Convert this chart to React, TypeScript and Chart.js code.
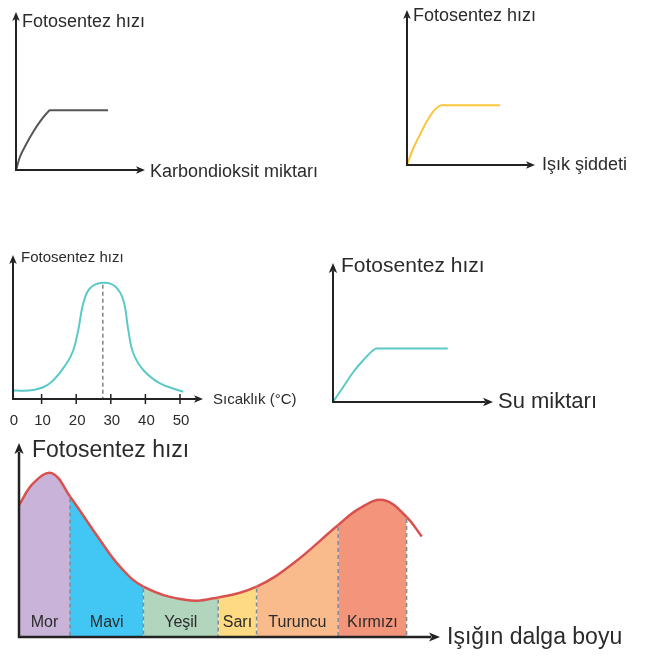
import React, { useEffect, useRef } from "react";
import { Chart, registerables } from "chart.js";
Chart.register(...registerables);

// ---------- DATA ----------
// 1) Karbondioksit miktarı
const co2X = [0, 0.31, 0.83, 1.34, 1.86, 2.38, 2.64, 7.13];
const co2Y = [0, 0.84, 1.69, 2.42, 3.06, 3.59, 3.78, 3.78];
// 2) Işık şiddeti
const lightX = [0, 0.49, 1.0, 1.53, 2.04, 2.43, 2.69, 7.26];
const lightY = [0, 1.08, 1.94, 2.79, 3.44, 3.76, 3.85, 3.85];
// 3) Sıcaklık (°C)
const tempX = [1.73, 7.6, 12.4, 17.25, 19.15, 20.6, 22.05, 24, 27.7, 31.2, 33.6, 35.05, 36.5, 39.4, 44.2, 50.95];
const tempY = [7.2, 7.8, 13.5, 30.8, 42, 59.5, 82.5, 95.4, 100, 97, 85.3, 59.5, 39.4, 25, 13.5, 6.3];
const tempTicks = [0, 10, 20, 30, 40, 50];
// 4) Su miktarı
const waterX = [0, 0.64, 1.27, 1.89, 2.51, 2.72, 7.17];
const waterY = [0, 1.08, 2.16, 3.0, 3.72, 3.84, 3.84];
// 5) Işığın dalga boyu
const waveX = [0, 3.6, 8.2, 12.75, 20.25, 25.25, 31.1, 41.9, 49.8, 59.4, 68.6, 79.8, 85.25, 91.1, 96.9, 100.7];
const waveY = [66, 76.9, 81.9, 70.2, 48.5, 35.2, 25.2, 18.5, 19.8, 25.2, 36.9, 56, 64.4, 68.5, 60, 50.2];
const bandNames = ["Mor", "Mavi", "Yeşil", "Sarı", "Turuncu", "Kırmızı"];
const bandBounds = [0, 12.75, 31.1, 49.8, 59.4, 79.8, 96.9];
const bandColors = ["#c9b3d9", "#42c7f4", "#b2d5bd", "#fedb82", "#f9bb8c", "#f3957b"];

const AXIS = "#222222";
const TEXT = "#2b2b2b";
const FONT = '"Liberation Sans", Arial, sans-serif';

type Label = { text: string; anchor: "top" | "right"; dx: number; dy: number; size: number };
type Spec = {
  box: { x: number; y: number; w: number; h: number };
  area: { left: number; top: number; right: number; bottom: number };
  xMin: number;
  xMax: number;
  yMax: number;
  xs: number[];
  ys: number[];
  color: string;
  lineWidth: number;
  arrow: number;
  axisWidth: number;
  smooth: "monotone" | "bezier";
  labels: Label[];
  kind?: "temp" | "wave";
};

const specs: Spec[] = [
  {
    box: { x: 0, y: 0, w: 330, h: 190 },
    area: { left: 16, top: 12, right: 145, bottom: 170 },
    xMin: 0, xMax: 10, yMax: 10, xs: co2X, ys: co2Y, color: "#555555", lineWidth: 2, arrow: 9, axisWidth: 2, smooth: "monotone",
    labels: [
      { text: "Fotosentez hızı", anchor: "top", dx: 6, dy: 15, size: 18 },
      { text: "Karbondioksit miktarı", anchor: "right", dx: 5, dy: 6.5, size: 18 },
    ],
  },
  {
    box: { x: 380, y: 0, w: 275, h: 190 },
    area: { left: 407, top: 10, right: 535, bottom: 165 },
    xMin: 0, xMax: 10, yMax: 10, xs: lightX, ys: lightY, color: "#fbc53c", lineWidth: 2, arrow: 9, axisWidth: 2, smooth: "monotone",
    labels: [
      { text: "Fotosentez hızı", anchor: "top", dx: 6, dy: 11, size: 18 },
      { text: "Işık şiddeti", anchor: "right", dx: 7, dy: 4.5, size: 18 },
    ],
  },
  {
    box: { x: 0, y: 240, w: 320, h: 195 },
    area: { left: 13, top: 255, right: 203, bottom: 399 },
    xMin: 1.73, xMax: 56.65, yMax: 124, xs: tempX, ys: tempY, color: "#5cc9c9", lineWidth: 2, arrow: 9, axisWidth: 2, smooth: "bezier",
    labels: [
      { text: "Fotosentez hızı", anchor: "top", dx: 8, dy: 7, size: 15 },
      { text: "Sıcaklık (°C)", anchor: "right", dx: 10, dy: 5, size: 15 },
    ],
    kind: "temp",
  },
  {
    box: { x: 320, y: 245, w: 335, h: 180 },
    area: { left: 333, top: 263, right: 493, bottom: 402 },
    xMin: 0, xMax: 10, yMax: 10, xs: waterX, ys: waterY, color: "#5cc9c9", lineWidth: 2, arrow: 10, axisWidth: 2, smooth: "monotone",
    labels: [
      { text: "Fotosentez hızı", anchor: "top", dx: 8, dy: 9, size: 21 },
      { text: "Su miktarı", anchor: "right", dx: 5, dy: 6, size: 22 },
    ],
  },
  {
    box: { x: 0, y: 435, w: 655, h: 224 },
    area: { left: 19, top: 443, right: 440, bottom: 637 },
    xMin: 0, xMax: 105.25, yMax: 97, xs: waveX, ys: waveY, color: "#d9514e", lineWidth: 2.5, arrow: 11, axisWidth: 2.5, smooth: "bezier",
    labels: [
      { text: "Fotosentez hızı", anchor: "top", dx: 13, dy: 14, size: 23 },
      { text: "Işığın dalga boyu", anchor: "right", dx: 7, dy: 7, size: 23 },
    ],
    kind: "wave",
  },
];

function bandIndex(x: number): number {
  for (let i = 0; i < bandBounds.length - 1; i++) {
    if (x >= bandBounds[i] && x < bandBounds[i + 1]) return i;
  }
  return -1;
}

function makePlugin(spec: Spec) {
  return {
    id: "decor",
    afterDatasetsDraw(chart: any) {
      const ctx: CanvasRenderingContext2D = chart.ctx;
      const { left, top, right, bottom } = chart.chartArea;
      const xs = chart.scales.x;
      const meta = chart.getDatasetMeta(0);
      ctx.save();

      if (spec.kind === "wave") {
        ctx.strokeStyle = "#7f8c98";
        ctx.lineWidth = 1.5;
        ctx.setLineDash([4, 3]);
        for (let b = 1; b < bandBounds.length; b++) {
          const idx = waveX.indexOf(bandBounds[b]);
          if (idx < 0) continue;
          const pt = meta.data[idx];
          ctx.beginPath();
          ctx.moveTo(pt.x, pt.y + 2);
          ctx.lineTo(pt.x, bottom);
          ctx.stroke();
        }
        ctx.setLineDash([]);
        ctx.fillStyle = TEXT;
        ctx.font = `16px ${FONT}`;
        ctx.textAlign = "center";
        ctx.textBaseline = "alphabetic";
        for (let i = 0; i < bandNames.length; i++) {
          const cx = xs.getPixelForValue((bandBounds[i] + bandBounds[i + 1]) / 2);
          ctx.fillText(bandNames[i], cx, bottom - 10);
        }
      }

      if (spec.kind === "temp") {
        let pk = 0;
        tempY.forEach((v, i) => { if (v > tempY[pk]) pk = i; });
        const pt = meta.data[pk];
        ctx.strokeStyle = "#6f6f6f";
        ctx.lineWidth = 1.3;
        ctx.setLineDash([4, 3]);
        ctx.beginPath();
        ctx.moveTo(pt.x, pt.y + 2);
        ctx.lineTo(pt.x, bottom);
        ctx.stroke();
        ctx.setLineDash([]);
        ctx.strokeStyle = AXIS;
        ctx.lineWidth = 1.5;
        ctx.fillStyle = TEXT;
        ctx.font = `15px ${FONT}`;
        ctx.textAlign = "center";
        ctx.textBaseline = "alphabetic";
        for (const t of tempTicks) {
          const px = Math.max(left, xs.getPixelForValue(t));
          if (px > left) {
            ctx.beginPath();
            ctx.moveTo(px, bottom - 5);
            ctx.lineTo(px, bottom + 5);
            ctx.stroke();
          }
          ctx.fillText(String(t), px + 1, bottom + 26);
        }
      }

      // axes with arrows
      const a = spec.arrow;
      const hw = a * 0.42;
      ctx.strokeStyle = AXIS;
      ctx.fillStyle = AXIS;
      ctx.lineWidth = spec.axisWidth;
      ctx.beginPath();
      ctx.moveTo(left, top + a - 2);
      ctx.lineTo(left, bottom);
      ctx.lineTo(right - a + 2, bottom);
      ctx.stroke();
      ctx.beginPath();
      ctx.moveTo(left, top);
      ctx.lineTo(left - hw, top + a);
      ctx.lineTo(left, top + a * 0.75);
      ctx.lineTo(left + hw, top + a);
      ctx.closePath();
      ctx.fill();
      ctx.beginPath();
      ctx.moveTo(right, bottom);
      ctx.lineTo(right - a, bottom - hw);
      ctx.lineTo(right - a * 0.75, bottom);
      ctx.lineTo(right - a, bottom + hw);
      ctx.closePath();
      ctx.fill();

      // axis titles
      ctx.fillStyle = TEXT;
      ctx.textAlign = "left";
      ctx.textBaseline = "alphabetic";
      for (const l of spec.labels) {
        ctx.font = `${l.size}px ${FONT}`;
        if (l.anchor === "top") ctx.fillText(l.text, left + l.dx, top + l.dy);
        else ctx.fillText(l.text, right + l.dx, bottom + l.dy);
      }
      ctx.restore();
    },
  };
}

function MiniChart({ spec }: { spec: Spec }) {
  const ref = useRef<HTMLCanvasElement | null>(null);
  useEffect(() => {
    if (!ref.current) return;
    const { box, area } = spec;
    const padding = {
      left: area.left - box.x,
      top: area.top - box.y,
      right: box.x + box.w - area.right,
      bottom: box.y + box.h - area.bottom,
    };
    const dataset: any = {
      data: spec.xs.map((x, i) => ({ x, y: spec.ys[i] })),
      borderColor: spec.color,
      borderWidth: spec.lineWidth,
      pointRadius: 0,
      tension: 0.4,
      cubicInterpolationMode: spec.smooth === "monotone" ? "monotone" : "default",
      fill: false,
      clip: false,
    };
    if (spec.kind === "wave") {
      dataset.fill = "origin";
      dataset.backgroundColor = "rgba(0,0,0,0)";
      dataset.segment = {
        backgroundColor: (c: any) => {
          const i = bandIndex(c.p0.parsed.x);
          return i >= 0 ? bandColors[i] : "rgba(0,0,0,0)";
        },
      };
    }
    const chart = new Chart(ref.current, {
      type: "line",
      data: { datasets: [dataset] },
      options: {
        animation: false,
        responsive: false,
        maintainAspectRatio: false,
        events: [],
        layout: { padding },
        plugins: { legend: { display: false }, tooltip: { enabled: false } },
        scales: {
          x: { type: "linear", display: false, min: spec.xMin, max: spec.xMax },
          y: { type: "linear", display: false, min: 0, max: spec.yMax },
        },
      },
      plugins: [makePlugin(spec)],
    } as any);
    return () => chart.destroy();
  }, [spec]);
  const { box } = spec;
  return (
    <canvas
      ref={ref}
      width={box.w}
      height={box.h}
      style={{ position: "absolute", left: box.x, top: box.y, width: box.w, height: box.h }}
    />
  );
}

export default function App() {
  useEffect(() => {
    document.body.style.margin = "0";
    document.body.style.background = "#ffffff";
  }, []);
  return (
    <div style={{ position: "relative", width: 655, height: 659, background: "#ffffff", overflow: "hidden" }}>
      {specs.map((s, i) => (
        <MiniChart key={i} spec={s} />
      ))}
    </div>
  );
}
